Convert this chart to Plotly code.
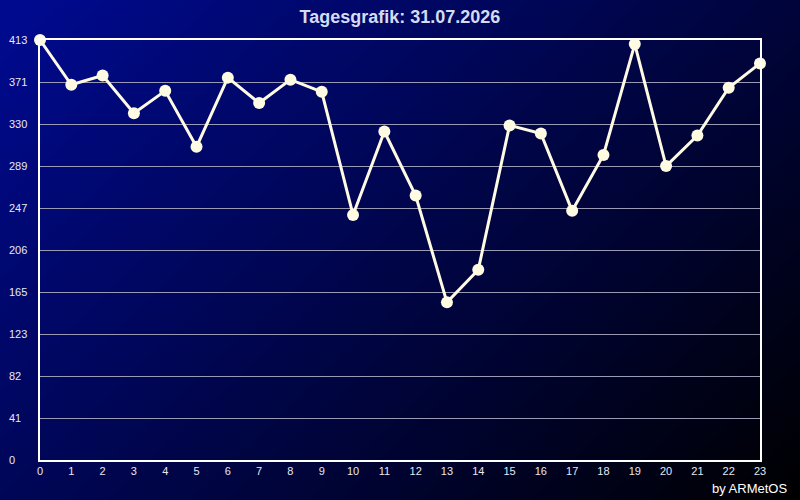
"""Tagesgrafik: hourly line chart on a blue gradient background."""

import numpy
import plotly.graph_objects

TITLE = "Tagesgrafik: 31.07.2026"
CREDIT = "by ARMetOS"

hours = list(range(24))
values = [
    413, 369, 378, 341, 363, 308, 376, 351, 374, 362, 241, 323,
    260, 155, 187, 329, 321, 245, 300, 409, 289, 319, 366, 390,
]
y_max = 413
y_tick_values = [y_max * i / 10 for i in range(11)]
y_tick_labels = ["0", "41", "82", "123", "165", "206", "247", "289", "330", "371", "413"]

WIDTH, HEIGHT = 800, 500
LEFT, RIGHT, TOP, BOTTOM = 40, 760, 40, 460
FONT = "Liberation Sans, Arial, sans-serif"


def plot_day_chart() -> None:
    figure = plotly.graph_objects.Figure()

    # background gradient: blue top-left to black bottom-right
    gx = numpy.linspace(0.0, 1.0, 80)
    gy = numpy.linspace(0.0, 1.0, 50)
    gxx, gyy = numpy.meshgrid(gx, gy)
    shade = 1.0 - 0.6 * gxx - 0.4 * (1.0 - gyy)
    figure.add_heatmap(
        z=shade,
        x=gx,
        y=gy,
        xaxis="x",
        yaxis="y",
        colorscale=[[0, "rgb(0,0,0)"], [1, "rgb(0,10,145)"]],
        zmin=0,
        zmax=1,
        zsmooth="best",
        showscale=False,
        hoverinfo="skip",
    )

    figure.add_scatter(
        x=hours,
        y=values,
        xaxis="x2",
        yaxis="y2",
        mode="lines+markers",
        line={"color": "#fffbe3", "width": 3},
        marker={"color": "#fffbe3", "size": 12},
        cliponaxis=False,
        showlegend=False,
    )

    # left aligned y labels like the original
    for value, label in zip(y_tick_values, y_tick_labels):
        figure.add_annotation(
            x=7 / WIDTH,
            xref="paper",
            y=value,
            yref="y2",
            text=label,
            showarrow=False,
            xanchor="left",
            yanchor="middle",
            font={"family": FONT, "size": 11, "color": "#e8e8f0"},
        )

    figure.add_annotation(
        x=789 / WIDTH,
        xref="paper",
        y=(HEIGHT - 488) / HEIGHT,
        yref="paper",
        text=CREDIT,
        showarrow=False,
        xanchor="right",
        yanchor="middle",
        font={"family": FONT, "size": 13, "color": "#ffffff"},
    )

    figure.update_layout(
        width=WIDTH,
        height=HEIGHT,
        margin={"l": 0, "r": 0, "t": 0, "b": 0, "pad": 0},
        paper_bgcolor="#000000",
        plot_bgcolor="rgba(0,0,0,0)",
        title={
            "text": "<b>" + TITLE + "</b>",
            "x": 0.5,
            "xanchor": "center",
            "y": 1 - 17 / HEIGHT,
            "yanchor": "middle",
            "font": {"family": FONT, "size": 18, "color": "#d4dcf2"},
        },
        xaxis={
            "domain": [0, 1],
            "range": [0, 1],
            "visible": False,
            "fixedrange": True,
            "automargin": False,
        },
        yaxis={
            "domain": [0, 1],
            "range": [0, 1],
            "visible": False,
            "fixedrange": True,
            "automargin": False,
        },
        xaxis2={
            "domain": [LEFT / WIDTH, RIGHT / WIDTH],
            "anchor": "y2",
            "range": [0, 23],
            "automargin": False,
            "tickmode": "array",
            "tickvals": hours,
            "ticktext": [str(h) for h in hours],
            "showgrid": False,
            "zeroline": False,
            "showline": True,
            "linecolor": "#ffffff",
            "linewidth": 1.5,
            "mirror": True,
            "ticks": "",
            "tickfont": {"family": FONT, "size": 11, "color": "#e8e8f0"},
        },
        yaxis2={
            "domain": [(HEIGHT - BOTTOM) / HEIGHT, (HEIGHT - TOP) / HEIGHT],
            "anchor": "x2",
            "range": [0, y_max],
            "automargin": False,
            "tickmode": "array",
            "tickvals": y_tick_values,
            "showticklabels": False,
            "showgrid": True,
            "gridcolor": "#9a9ab4",
            "gridwidth": 1,
            "zeroline": False,
            "showline": True,
            "linecolor": "#ffffff",
            "linewidth": 1.5,
            "mirror": True,
            "ticks": "",
        },
    )

    figure.write_html(
        "out.html",
        config={"displayModeBar": False},
        post_script="document.body.style.margin = '0px';",
    )


if __name__ == "__main__":
    plot_day_chart()
